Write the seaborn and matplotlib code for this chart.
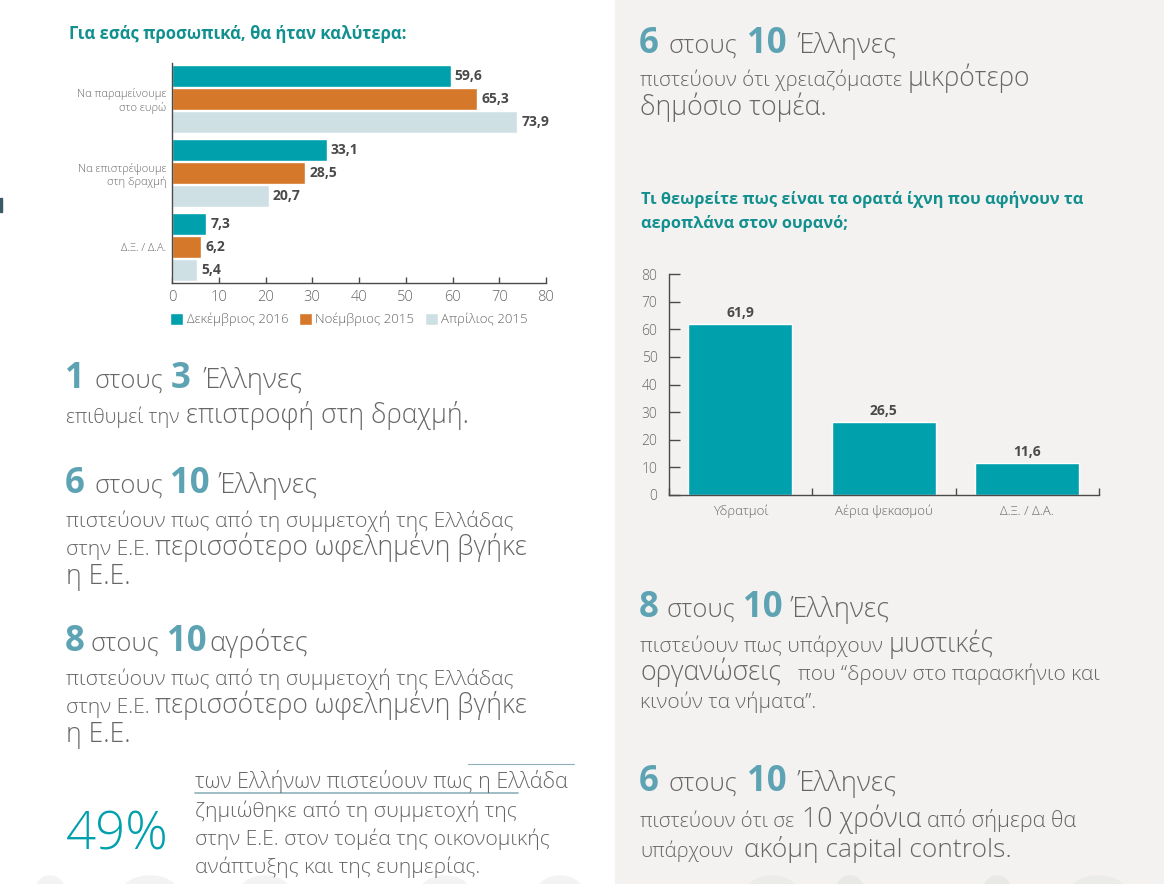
import pandas as pd
import matplotlib
matplotlib.use("Agg")
import matplotlib.pyplot as plt
import seaborn as sns
from matplotlib.patches import Ellipse, Rectangle

W, H = 1164, 884

TEAL = "#00a0ad"
ORANGE = "#d5782a"
PALE = "#cfe0e4"
TITLE = "#12908f"
BIG = "#5ea3b3"
GREY = "#666666"
DARK = "#4a4a4a"
PANEL = "#f3f2f0"

# left chart
answers = ["Να παραμείνουμε\nστο ευρώ", "Να επιστρέψουμε\nστη δραχμή", "Δ.Ξ. / Δ.Α."]
periods = ["Δεκέμβριος 2016", "Νοέμβριος 2015", "Απρίλιος 2015"]
dec_2016 = [59.6, 33.1, 7.3]
nov_2015 = [65.3, 28.5, 6.2]
apr_2015 = [73.9, 20.7, 5.4]

# right chart
trails = ["Υδρατμοί", "Αέρια ψεκασμού", "Δ.Ξ. / Δ.Α."]
trail_values = [61.9, 26.5, 11.6]

sns.set_theme(style="white")
plt.rcParams["font.family"] = ["Open Sans", "DejaVu Sans"]
plt.rcParams["font.weight"] = "light"

BODY = 15.25
EM = 19.1


def comma(v):
    return f"{v:.1f}".replace(".", ",")


def px_axes(fig, left, top, right, bottom):
    return fig.add_axes([left / W, 1 - bottom / H, (right - left) / W, (bottom - top) / H])


def txt(fig, x, y, s, size=BODY, color=GREY, weight="light", **kw):
    # y is the text baseline in pixels from the top
    fig.text(x / W, 1 - y / H, s, fontsize=size, color=color, fontweight=weight, va="baseline", **kw)


def runs(fig, y, parts):
    for x, s, size in parts:
        txt(fig, x, y, s, size)


def headline(fig, y, xs, a, mid, b, tail):
    txt(fig, xs[0], y, a, 25, BIG, "bold")
    txt(fig, xs[1], y, mid, 18.4)
    txt(fig, xs[2], y, b, 25, BIG, "bold")
    txt(fig, xs[3], y, tail, 19.6)


fig = plt.figure(figsize=(W / 100, H / 100), dpi=100, facecolor="white")
fig.add_artist(Rectangle((615 / W, 0), 1 - 615 / W, 1, transform=fig.transFigure, color=PANEL, zorder=-5))
fig.add_artist(Rectangle((0, 1 - 212 / H), 2 / W, 14 / H, transform=fig.transFigure, color="#3a5a66", zorder=-4))

# faint watermark shapes along the bottom edge
for cx, wd, col in [(50, 30, "#f3f3f3"), (150, 55, "#f3f3f3"), (265, 50, "#f3f3f3"), (445, 50, "#f3f3f3"),
                    (560, 45, "#f3f3f3"), (772, 50, "#ebebe9"), (850, 28, "#e8e8e6"), (997, 28, "#e8e8e6"),
                    (1098, 55, "#ebebe9")]:
    fig.add_artist(Ellipse((cx / W, 1 - 892 / H), wd / W, 32 / H, transform=fig.transFigure, color=col, zorder=-4))

# left chart
df = pd.DataFrame({
    "answer": answers * 3,
    "period": [p for p in periods for _ in answers],
    "value": dec_2016 + nov_2015 + apr_2015,
})
ax = px_axes(fig, 172, 63, 546, 283)
ax.patch.set_alpha(0)
sns.barplot(data=df, y="answer", x="value", hue="period", hue_order=periods,
            palette=[TEAL, ORANGE, PALE], width=0.93, gap=0.05, saturation=1, ax=ax)
for c in ax.containers:
    ax.bar_label(c, fmt=comma, padding=3, fontsize=10, fontweight="bold", color=DARK)
ax.set(xlabel="", ylabel="", xlim=(0, 80), ylim=(2.483, -0.483))
ax.set_xticks(range(0, 81, 10))
ax.tick_params(axis="x", direction="in", length=4, width=1, color=DARK, labelsize=10.5,
               labelcolor=GREY, bottom=True, pad=5)
ax.tick_params(axis="y", length=0, labelsize=8, labelcolor=GREY, pad=4)
sns.despine(ax=ax)
for s in ["left", "bottom"]:
    ax.spines[s].set_color(DARK)
    ax.spines[s].set_linewidth(1)
ax.legend(loc="upper left", bbox_to_anchor=(-0.005, -0.135), ncol=3, frameon=False, fontsize=9.5,
          labelcolor=GREY, handlelength=1, handleheight=1, handletextpad=0.25, columnspacing=0.8,
          borderpad=0, borderaxespad=0)

# right chart
ax2 = px_axes(fig, 668.6, 274, 1099, 495)
ax2.patch.set_alpha(0)
sns.barplot(x=trails, y=trail_values, color=TEAL, width=0.725, saturation=1, ax=ax2)
for c in ax2.containers:
    ax2.bar_label(c, fmt=comma, padding=3, fontsize=10, fontweight="bold", color=DARK)
ax2.set(xlim=(-0.5, 2.5), ylim=(0, 80))
ax2.set_yticks(range(0, 81, 10))
ax2.set_xticks([-0.5, 0.5, 1.5, 2.5], minor=True)
ax2.tick_params(axis="x", which="major", length=0, labelsize=9.5, labelcolor=GREY, pad=7)
ax2.tick_params(axis="x", which="minor", direction="in", length=5, width=1, color=DARK, bottom=True)
ax2.tick_params(axis="y", direction="in", length=8, width=1, color=DARK, labelsize=10, labelcolor=GREY, left=True, pad=8)
sns.despine(ax=ax2)
for s in ["left", "bottom"]:
    ax2.spines[s].set_color(DARK)
    ax2.spines[s].set_linewidth(1)

# chart titles
txt(fig, 69, 39, "Για εσάς προσωπικά, θα ήταν καλύτερα:", 12, TITLE, "bold")
txt(fig, 641, 204, "Τι θεωρείτε πως είναι τα ορατά ίχνη που αφήνουν τα", 11.8, TITLE, "bold")
txt(fig, 641, 228, "αεροπλάνα στον ουρανό;", 11.8, TITLE, "bold")

# left column copy
headline(fig, 388, (65, 94, 171, 203), "1", "στους", "3", "Έλληνες")
runs(fig, 423, [(66, "επιθυμεί την", 14.3), (186, "επιστροφή στη δραχμή.", EM)])

headline(fig, 493, (65, 94, 170, 218), "6", "στους", "10", "Έλληνες")
txt(fig, 66, 527, "πιστεύουν πως από τη συμμετοχή της Ελλάδας")
runs(fig, 555, [(66, "στην Ε.Ε.", BODY), (155, "περισσότερο ωφελημένη βγήκε", EM)])
txt(fig, 66, 584, "η Ε.Ε.", EM)

headline(fig, 651, (65, 91, 167, 209), "8", "στους", "10", "αγρότες")
txt(fig, 66, 685, "πιστεύουν πως από τη συμμετοχή της Ελλάδας")
runs(fig, 713, [(66, "στην Ε.Ε.", BODY), (155, "περισσότερο ωφελημένη βγήκε", EM)])
txt(fig, 66, 742, "η Ε.Ε.", EM)

txt(fig, 66, 850, "49%", 38, TEAL, "light")
txt(fig, 195, 788, "των Ελλήνων πιστεύουν πως η Ελλάδα", 15.5)
txt(fig, 195, 817, "ζημιώθηκε από τη συμμετοχή της", 15.3)
txt(fig, 195, 845, "στην Ε.Ε. στον τομέα της οικονομικής", 15.2)
txt(fig, 195, 873, "ανάπτυξης και της ευημερίας.", 15.3)
fig.add_artist(plt.Line2D([195 / W, 518 / W], [1 - 793 / H] * 2, color="#8fb0bb", lw=1.2))
fig.add_artist(plt.Line2D([468 / W, 574 / W], [1 - 764 / H] * 2, color="#8fb0bb", lw=0.8))

# right column copy
headline(fig, 53, (639, 669, 747, 797), "6", "στους", "10", "Έλληνες")
runs(fig, 86, [(640, "πιστεύουν ότι χρειαζόμαστε", 14.8), (908, "μικρότερο", 19.1)])
txt(fig, 640, 115, "δημόσιο τομέα.", 19.3)

headline(fig, 617, (639, 667, 743, 790), "8", "στους", "10", "Έλληνες")
runs(fig, 652, [(640, "πιστεύουν πως υπάρχουν", 15), (889, "μυστικές", 19.3)])
runs(fig, 680, [(640, "οργανώσεις", 19.3), (798, "που “δρουν στο παρασκήνιο και", 15)])
txt(fig, 640, 708, "κινούν τα νήματα”.", 15)

headline(fig, 791, (639, 669, 747, 797), "6", "στους", "10", "Έλληνες")
runs(fig, 827, [(640, "πιστεύουν ότι σε", 14.7), (802, "10 χρόνια", 19.3), (927, "από σήμερα θα", 15.7)])
runs(fig, 857, [(640, "υπάρχουν", 14.7), (744, "ακόμη capital controls.", 19)])

fig.savefig("out.png", dpi=100)
